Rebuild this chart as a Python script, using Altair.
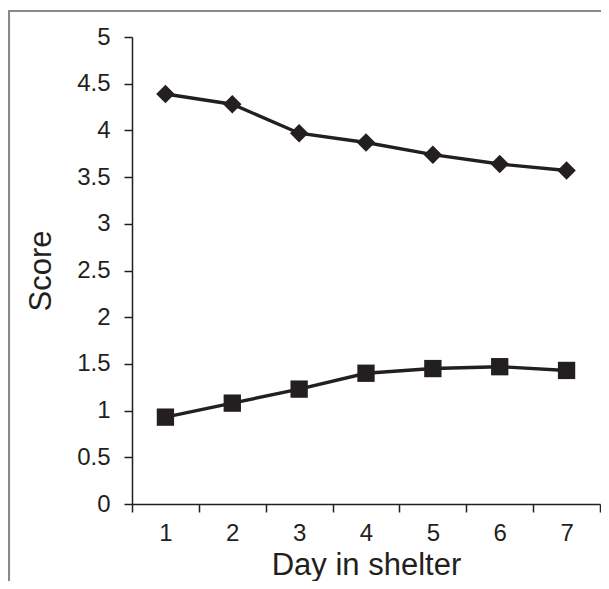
import altair as alt
import pandas as pd

days = [1, 2, 3, 4, 5, 6, 7]
diamond_scores = [4.39, 4.28, 3.97, 3.87, 3.74, 3.64, 3.57]
square_scores = [0.93, 1.08, 1.23, 1.40, 1.45, 1.47, 1.43]
y_ticks = [0, 0.5, 1, 1.5, 2, 2.5, 3, 3.5, 4, 4.5, 5]
x_ticks = [0.5, 1, 1.5, 2, 2.5, 3, 3.5, 4, 4.5, 5, 5.5, 6, 6.5, 7, 7.5]

INK = "#231f20"
FONT = "Liberation Sans"

df = pd.DataFrame({
    "day": days * 2,
    "score": diamond_scores + square_scores,
    "series": ["A"] * 7 + ["B"] * 7,
})

x = alt.X(
    "day:Q",
    scale=alt.Scale(domain=[0.5, 7.5], nice=False, zero=False),
    axis=alt.Axis(
        values=x_ticks,
        labelExpr="datum.value % 1 === 0 ? format(datum.value, 'd') : ''",
        tickOpacity={"condition": {"test": "datum.value % 1 === 0", "value": 0}, "value": 1},
        labelOverlap=False,
        labelFlush=False,
        grid=False,
        title="Day in shelter",
        titleY=70,
        titleBaseline="alphabetic",
        tickSize=8,
        labelPadding=9,
        domainColor=INK,
        tickColor=INK,
        domainWidth=1.5,
        tickWidth=1.5,
    ),
)
y = alt.Y(
    "score:Q",
    scale=alt.Scale(domain=[0, 5], nice=False),
    axis=alt.Axis(
        values=y_ticks,
        format=".1~f",
        grid=False,
        title="Score",
        titleX=-91,
        titleBaseline="middle",
        tickSize=8,
        labelPadding=14,
        domainColor=INK,
        tickColor=INK,
        domainWidth=1.5,
        tickWidth=1.5,
    ),
)

line = alt.Chart(df).mark_line(color=INK, strokeWidth=3.4).encode(x=x, y=y, detail="series:N")
pts = alt.Chart(df).mark_point(filled=True, opacity=1, color=INK).encode(
    x=x, y=y,
    shape=alt.Shape("series:N", scale=alt.Scale(domain=["A", "B"], range=["diamond", "square"]), legend=None),
    size=alt.Size("series:N", scale=alt.Scale(domain=["A", "B"], range=[340, 300]), legend=None),
)

frame_df = pd.DataFrame({"a": [0]})
frame_top = alt.Chart(frame_df).mark_rule(color="#8a8a8a", strokeWidth=2.2, clip=False).encode(
    x=alt.value(-123), x2=alt.value(480), y=alt.value(-26)
)
frame_left = alt.Chart(frame_df).mark_rule(color="#8a8a8a", strokeWidth=2.2, clip=False).encode(
    x=alt.value(-123), y=alt.value(-27), y2=alt.value(560)
)

chart = alt.layer(frame_top, frame_left, line, pts).properties(
    width=468,
    height=467,
    background="white",
    autosize=alt.AutoSizeParams(type="none"),
    padding={"left": 124, "top": 29, "right": 1, "bottom": 77},
).configure_view(stroke=None).configure_axis(
    labelFont=FONT, titleFont=FONT, labelFontSize=24, titleFontSize=31,
    labelColor=INK, titleColor=INK, titleFontWeight="normal",
)

chart.save("out.html", embed_options={"renderer": "svg", "actions": False})
